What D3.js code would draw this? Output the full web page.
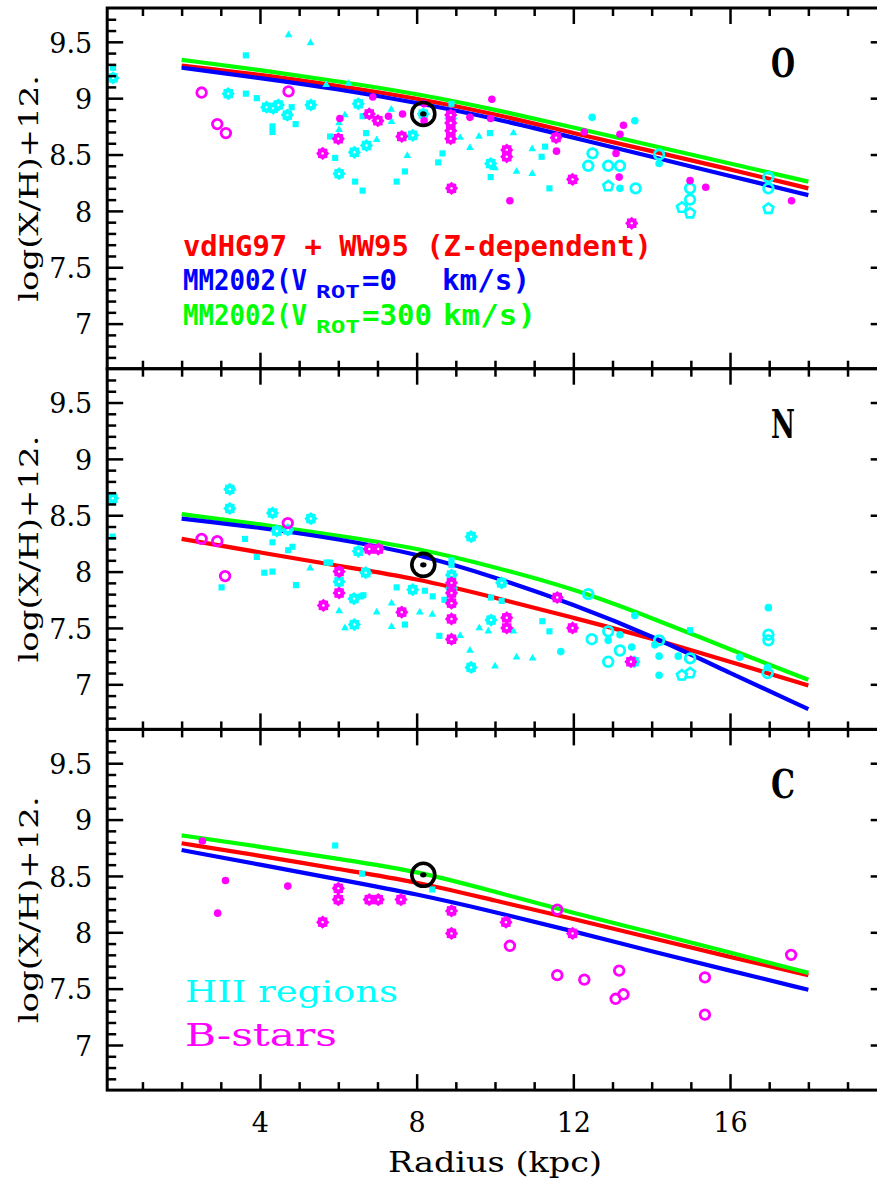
<!DOCTYPE html>
<html>
<head>
<meta charset="utf-8">
<script src="https://cdn.jsdelivr.net/npm/d3@7"></script>
<style>
  body { margin: 0; background: #fff; }
  svg { display: block; }
</style>
</head>
<body>
<div id="chart"></div>
<script>
// radius grid of the chemical evolution models (kpc)
const radiusGrid = [2, 4, 6, 8, 10, 12, 14, 16, 18];

// model gradients, log(X/H)+12
const oVdHG  = [9.29, 9.21, 9.11, 9.00, 8.86, 8.69, 8.53, 8.37, 8.20];
const oMM0   = [9.27, 9.18, 9.08, 8.96, 8.82, 8.65, 8.48, 8.31, 8.14];
const oMM300 = [9.34, 9.25, 9.15, 9.04, 8.90, 8.74, 8.58, 8.42, 8.26];
const nVdHG  = [8.29, 8.17, 8.05, 7.94, 7.77, 7.59, 7.41, 7.20, 6.99];
const nMM0   = [8.47, 8.39, 8.29, 8.16, 7.95, 7.71, 7.43, 7.10, 6.78];
const nMM300 = [8.51, 8.42, 8.32, 8.21, 8.04, 7.85, 7.59, 7.31, 7.04];
const cVdHG  = [8.79, 8.68, 8.56, 8.45, 8.28, 8.12, 7.95, 7.78, 7.62];
const cMM0   = [8.73, 8.60, 8.47, 8.34, 8.18, 8.01, 7.83, 7.66, 7.49];
const cMM300 = [8.86, 8.76, 8.65, 8.545, 8.36, 8.17, 8.00, 7.82, 7.64];

// observations: [radius, abundance, sample]
// samples: sq, tri, flw (flower), ring (open circle), pent (open pentagon), dot
const oHII = [
  [0.25,9.18,"flw"],[3.19,9.04,"flw"],[4.17,8.92,"flw"],[4.34,8.91,"flw"],[4.47,8.94,"flw"],
  [4.70,8.85,"flw"],[5.30,8.94,"flw"],[6.02,8.33,"flw"],[6.51,8.95,"flw"],[6.41,8.52,"flw"],
  [6.72,8.58,"flw"],[7.90,8.67,"flw"],[8.17,8.86,"flw"],[8.87,8.82,"flw"],[9.89,8.42,"flw"],
  [0.25,9.27,"sq"],[3.64,9.04,"sq"],[3.64,9.38,"sq"],[3.92,9.00,"sq"],[4.32,8.75,"sq"],
  [4.32,8.70,"sq"],[4.81,8.92,"sq"],[4.91,8.77,"sq"],[5.92,8.47,"sq"],[5.79,8.66,"sq"],
  [6.62,8.84,"sq"],[6.43,8.26,"sq"],[6.62,8.18,"sq"],[6.71,8.69,"sq"],[7.70,8.35,"sq"],
  [7.49,8.26,"sq"],[8.55,8.43,"sq"],[8.89,8.95,"sq"],[8.66,8.51,"sq"],[9.87,8.69,"sq"],
  [9.89,8.30,"sq"],[11.28,8.57,"sq"],[11.19,8.48,"sq"],[11.39,8.20,"sq"],
  [4.73,9.56,"tri"],[5.29,9.49,"tri"],[5.69,9.12,"tri"],[6.02,8.78,"tri"],[6.02,8.72,"tri"],
  [6.17,8.85,"tri"],[6.26,9.13,"tri"],[6.98,8.63,"tri"],[7.35,8.90,"tri"],[7.36,8.79,"tri"],
  [7.76,8.49,"tri"],[9.11,8.65,"tri"],[9.36,8.56,"tri"],[9.59,8.66,"tri"],[10.00,8.38,"tri"],
  [10.47,8.69,"tri"],[10.55,8.35,"tri"],[10.95,8.55,"tri"],[10.95,8.33,"tri"],
  [12.49,8.51,"ring"],[12.38,8.40,"ring"],[12.89,8.40,"ring"],[13.19,8.40,"ring"],[13.59,8.20,"ring"],
  [14.19,8.50,"ring"],[14.98,8.20,"ring"],[14.98,8.10,"ring"],[16.98,8.30,"ring"],[16.98,8.20,"ring"],
  [12.89,8.22,"pent"],[14.98,7.98,"pent"],[14.77,8.03,"pent"],[16.98,8.02,"pent"],
  [12.48,8.83,"dot"],[13.57,8.80,"dot"],[13.19,8.20,"dot"],[14.19,8.42,"dot"]
];
const oBstars = [
  [2.51,9.05,"ring"],[2.91,8.77,"ring"],[3.13,8.69,"ring"],[4.73,9.06,"ring"],
  [5.60,8.51,"flw"],[6.00,8.64,"flw"],[6.79,8.86,"flw"],[7.01,8.80,"flw"],[7.62,8.66,"flw"],
  [8.87,8.85,"flw"],[8.87,8.78,"flw"],[8.87,8.71,"flw"],[8.87,8.64,"flw"],[8.89,8.20,"flw"],
  [10.30,8.54,"flw"],[10.30,8.48,"flw"],[11.56,8.65,"flw"],[11.98,8.28,"flw"],[13.49,7.89,"flw"],
  [6.04,8.82,"dot"],[6.88,9.01,"dot"],[7.28,8.84,"dot"],[7.64,8.86,"dot"],[8.19,8.95,"dot"],
  [8.19,8.80,"dot"],[9.36,8.83,"dot"],[9.92,8.99,"dot"],[9.89,8.82,"dot"],[10.38,8.09,"dot"],
  [11.57,8.53,"dot"],[12.28,8.70,"dot"],[13.28,8.76,"dot"],[13.19,8.68,"dot"],[13.09,8.51,"dot"],
  [13.17,8.30,"dot"],[14.98,8.27,"dot"],[15.38,8.21,"dot"],[17.57,8.09,"dot"]
];
const nHII = [
  [0.24,8.65,"flw"],[3.23,8.73,"flw"],[3.23,8.56,"flw"],[4.32,8.52,"flw"],[4.43,8.36,"flw"],
  [4.71,8.37,"flw"],[5.30,8.47,"flw"],[6.51,8.18,"flw"],[6.02,7.91,"flw"],[6.70,7.99,"flw"],
  [6.40,7.76,"flw"],[7.90,7.84,"flw"],[6.41,7.53,"flw"],[8.89,7.97,"flw"],[8.89,7.85,"flw"],
  [10.17,7.90,"flw"],[9.39,8.31,"flw"],[9.90,7.57,"flw"],[9.39,7.15,"flw"],[13.55,7.20,"flw"],
  [0.24,8.31,"sq"],[3.02,7.86,"sq"],[3.62,8.29,"sq"],[3.92,8.13,"sq"],[4.32,8.26,"sq"],
  [4.11,7.99,"sq"],[4.32,8.00,"sq"],[4.72,8.19,"sq"],[4.83,8.22,"sq"],[4.92,7.88,"sq"],
  [5.79,8.08,"sq"],[5.70,8.08,"sq"],[6.64,7.79,"sq"],[6.58,7.78,"sq"],[7.49,7.86,"sq"],
  [8.21,7.83,"sq"],[7.70,7.53,"sq"],[8.58,7.43,"sq"],[8.41,7.78,"sq"],[8.89,8.10,"sq"],
  [8.89,8.06,"sq"],[8.71,7.75,"sq"],[9.90,7.77,"sq"],[10.17,7.74,"sq"],[11.21,7.56,"sq"],
  [11.39,7.47,"sq"],[14.98,7.48,"sq"],
  [5.28,8.03,"tri"],[6.02,7.65,"tri"],[6.98,7.64,"tri"],[7.36,7.72,"tri"],[8.08,7.64,"tri"],
  [6.17,7.50,"tri"],[7.36,7.51,"tri"],[8.40,7.62,"tri"],[9.11,7.43,"tri"],[9.60,7.50,"tri"],
  [9.83,7.47,"tri"],[10.47,7.47,"tri"],[9.36,7.30,"tri"],[10.00,7.16,"tri"],[10.55,7.24,"tri"],
  [10.96,7.23,"tri"],
  [12.38,7.80,"ring"],[16.98,7.44,"ring"],[16.98,7.39,"ring"],[16.96,7.10,"ring"],[12.47,7.40,"ring"],
  [12.89,7.47,"ring"],[13.19,7.30,"ring"],[12.89,7.20,"ring"],[14.19,7.39,"ring"],[14.98,7.23,"ring"],
  [14.77,7.08,"pent"],[14.98,7.10,"pent"],
  [11.68,7.29,"dot"],[13.57,7.61,"dot"],[16.98,7.68,"dot"],[16.25,7.24,"dot"],[16.96,7.15,"dot"],
  [13.19,7.44,"dot"],[12.89,7.39,"dot"],[13.49,7.33,"dot"],[14.08,7.35,"dot"],[14.19,7.25,"dot"],
  [14.19,7.08,"dot"],[14.68,7.25,"dot"]
];
const nBstars = [
  [2.51,8.29,"ring"],[2.91,8.27,"ring"],[3.11,7.96,"ring"],[4.71,8.43,"ring"],
  [6.79,8.20,"flw"],[7.02,8.20,"flw"],[6.02,8.00,"flw"],[6.02,7.81,"flw"],[5.62,7.70,"flw"],
  [7.62,7.64,"flw"],[8.89,7.90,"flw"],[8.89,7.81,"flw"],[8.89,7.72,"flw"],[8.89,7.58,"flw"],
  [8.89,7.40,"flw"],[10.30,7.59,"flw"],[10.30,7.50,"flw"],[11.59,7.77,"flw"],[11.98,7.50,"flw"],
  [13.47,7.20,"flw"]
];
const cHII = [
  [5.92,8.77,"sq"],[6.61,8.52,"sq"],[8.40,8.38,"sq"]
];
const cBstars = [
  [2.53,8.81,"dot"],[3.12,8.46,"dot"],[2.92,8.17,"dot"],[4.71,8.41,"dot"],
  [6.00,8.39,"flw"],[6.00,8.29,"flw"],[5.60,8.09,"flw"],[6.79,8.29,"flw"],[7.02,8.29,"flw"],
  [7.60,8.29,"flw"],[8.89,8.19,"flw"],[8.89,7.99,"flw"],[10.28,8.09,"flw"],[11.98,7.99,"flw"],
  [10.38,7.88,"ring"],[11.59,8.20,"ring"],[11.59,7.62,"ring"],[12.28,7.58,"ring"],[13.17,7.66,"ring"],
  [13.28,7.45,"ring"],[13.08,7.41,"ring"],[15.36,7.60,"ring"],[15.36,7.27,"ring"],[17.56,7.80,"ring"]
];

// solar values
const sunRadius = 8.17;
const sunValues = [8.86, 8.06, 8.51];

const elementNames = ["O", "N", "C"];
const yMajorTicks = [7, 7.5, 8, 8.5, 9, 9.5];
const xMajorTicks = [4, 8, 12, 16];

const width = 877, height = 1186;
const panelTop = 8, panelH = 360.7;

const svg = d3.select("#chart")
  .append("svg")
    .attr("width", width)
    .attr("height", height);

const x = d3.scaleLinear().domain([0.1, 20]).range([107.2, 886.7]);

const yMinor = d3.range(67, 98).map(d => d / 10).filter(d => !yMajorTicks.includes(d));
const xMinor = d3.range(1, 20).filter(d => !xMajorTicks.includes(d));

const serif = "DejaVu Serif";
const mono = "DejaVu Sans Mono";

// marker shapes
function starPath(rOut, rIn, n) {
  const pts = [];
  for (let i = 0; i < 2 * n; i++) {
    const a = Math.PI * i / n;
    const r = i % 2 ? rIn : rOut;
    pts.push([r * Math.sin(a), -r * Math.cos(a)]);
  }
  return "M" + pts.map(p => p[0].toFixed(2) + "," + p[1].toFixed(2)).join("L") + "Z";
}
function polyPath(r, n) {
  const pts = d3.range(n).map(i => {
    const a = 2 * Math.PI * i / n;
    return [r * Math.sin(a), -r * Math.cos(a)];
  });
  return "M" + pts.map(p => p[0].toFixed(2) + "," + p[1].toFixed(2)).join("L") + "Z";
}
const flowerD = starPath(6.6, 5.2, 8);
const pentD = polyPath(5.2, 5);
const squareD = d3.symbol(d3.symbolSquare, 38)();
const triD = d3.symbol(d3.symbolTriangle, 26)();

function addMarkers(g, y, pts, color) {
  const m = g.append("g").selectAll("g")
    .data(pts)
    .enter()
    .append("g")
      .attr("transform", d => "translate(" + x(d[0]) + "," + y(d[1]) + ")");

  m.each(function(d) {
    const s = d3.select(this);
    if (d[2] === "flw") {
      s.append("path").attr("d", flowerD).attr("fill", color);
      s.append("circle").attr("r", 1.2).attr("fill", "#fff");
    } else if (d[2] === "ring") {
      s.append("circle").attr("r", 4.8).attr("fill", "none")
        .attr("stroke", color).attr("stroke-width", 2.8);
    } else if (d[2] === "pent") {
      s.append("path").attr("d", pentD).attr("fill", "none")
        .attr("stroke", color).attr("stroke-width", 2.6);
    } else if (d[2] === "sq") {
      s.append("path").attr("d", squareD).attr("fill", color);
    } else if (d[2] === "tri") {
      s.append("path").attr("d", triD).attr("fill", color);
    } else {
      s.append("circle").attr("r", 3.8).attr("fill", color);
    }
  });
}

function styleAxis(g) {
  g.select(".domain").remove();
  g.selectAll(".tick line").attr("stroke", "#000").attr("stroke-width", 2.5);
  g.selectAll(".tick text")
    .attr("font-family", serif)
    .attr("font-size", 27)
    .attr("fill", "#000");
}

const panels = [
  { models: [oVdHG, oMM0, oMM300], hii: oHII, bstars: oBstars },
  { models: [nVdHG, nMM0, nMM300], hii: nHII, bstars: nBstars },
  { models: [cVdHG, cMM0, cMM300], hii: cHII, bstars: cBstars }
];
const modelColors = ["#ff0000", "#0000ff", "#00ff00"];

panels.forEach(function(p, i) {
  const top = panelTop + i * panelH;
  const bottom = top + panelH;
  const y = d3.scaleLinear().domain([6.6, 9.8]).range([bottom, top]);
  const g = svg.append("g");

  // model curves (red first, then green and blue over it)
  const line = d3.line()
    .x(d => x(d[0]))
    .y(d => y(d[1]))
    .curve(d3.curveBasis);
  [0, 2, 1].forEach(function(k) {
    g.append("path")
      .datum(radiusGrid.map((r, j) => [r, p.models[k][j]]))
      .attr("d", line)
      .attr("fill", "none")
      .attr("stroke", modelColors[k])
      .attr("stroke-width", 4.2);
  });

  // data points
  addMarkers(g, y, p.hii, "#00ffff");
  addMarkers(g, y, p.bstars, "#ff00ff");

  // the Sun
  const sun = g.append("g")
    .attr("transform", "translate(" + x(sunRadius) + "," + y(sunValues[i]) + ")");
  sun.append("circle").attr("r", 11.5).attr("fill", "none")
    .attr("stroke", "#000").attr("stroke-width", 3.6);
  sun.append("ellipse").attr("rx", 3.2).attr("ry", 2.6).attr("fill", "#000");

  // ticks: left (with labels), right, top, bottom
  const fmt = d => (d % 1 === 0 ? d3.format("d")(d) : d3.format(".1f")(d));
  g.append("g").attr("transform", "translate(" + x(0.1) + ",0)")
    .call(d3.axisLeft(y).tickValues(yMajorTicks).tickSize(-16).tickPadding(15).tickFormat(fmt))
    .call(styleAxis)
    .selectAll(".tick text").attr("dy", "0.38em");
  g.append("g").attr("transform", "translate(" + x(0.1) + ",0)")
    .call(d3.axisLeft(y).tickValues(yMinor).tickSize(-9).tickFormat(() => ""))
    .call(styleAxis);
  g.append("g").attr("transform", "translate(" + x(20) + ",0)")
    .call(d3.axisRight(y).tickValues(yMajorTicks).tickSize(-16).tickFormat(() => ""))
    .call(styleAxis);
  g.append("g").attr("transform", "translate(" + x(20) + ",0)")
    .call(d3.axisRight(y).tickValues(yMinor).tickSize(-9).tickFormat(() => ""))
    .call(styleAxis);
  g.append("g").attr("transform", "translate(0," + top + ")")
    .call(d3.axisTop(x).tickValues(xMajorTicks).tickSize(-16).tickFormat(() => ""))
    .call(styleAxis);
  g.append("g").attr("transform", "translate(0," + top + ")")
    .call(d3.axisTop(x).tickValues(xMinor).tickSize(-8).tickFormat(() => ""))
    .call(styleAxis);
  g.append("g").attr("transform", "translate(0," + bottom + ")")
    .call(d3.axisBottom(x).tickValues(xMajorTicks).tickSize(-16).tickPadding(23)
      .tickFormat(i === 2 ? d3.format("d") : () => ""))
    .call(styleAxis);
  g.append("g").attr("transform", "translate(0," + bottom + ")")
    .call(d3.axisBottom(x).tickValues(xMinor).tickSize(-8).tickFormat(() => ""))
    .call(styleAxis);

  // frame
  g.append("rect")
    .attr("x", x(0.1)).attr("y", top)
    .attr("width", x(20) - x(0.1)).attr("height", panelH)
    .attr("fill", "none").attr("stroke", "#000").attr("stroke-width", 3);

  // y title
  g.append("text")
    .attr("transform", "translate(38," + (top + panelH / 2) + ") rotate(-90)")
    .attr("text-anchor", "middle")
    .attr("font-family", serif)
    .attr("font-size", 26)
    .attr("textLength", 227)
    .attr("lengthAdjust", "spacingAndGlyphs")
    .text("log(X/H)+12.");

  // element label
  g.append("text")
    .attr("x", 771).attr("y", top + 69)
    .attr("font-family", serif)
    .attr("font-weight", "bold")
    .attr("font-size", 39)
    .attr("textLength", 24)
    .attr("lengthAdjust", "spacingAndGlyphs")
    .text(elementNames[i]);
});

// x title
svg.append("text")
  .attr("x", 495).attr("y", 1172)
  .attr("text-anchor", "middle")
  .attr("font-family", serif)
  .attr("font-size", 28)
  .attr("textLength", 214)
  .attr("lengthAdjust", "spacingAndGlyphs")
  .text("Radius (kpc)");

// model legend (top panel)
function legendText(tx, ty, str, color, size, len) {
  svg.append("text")
    .attr("x", tx).attr("y", ty)
    .attr("font-family", mono)
    .attr("font-weight", "bold")
    .attr("font-size", size)
    .attr("fill", color)
    .attr("textLength", len)
    .attr("lengthAdjust", "spacingAndGlyphs")
    .style("white-space", "pre")
    .text(str);
}
legendText(183, 256, "vdHG97 + WW95 (Z-dependent)", "#ff0000", 28, 469);
legendText(183, 290, "MM2002(V", "#0000ff", 28, 124);
legendText(316, 298, "ROT", "#0000ff", 17, 44);
legendText(362, 290, "=0", "#0000ff", 28, 35);
legendText(442, 290, "km/s)", "#0000ff", 28, 88);
legendText(183, 325, "MM2002(V", "#00ff00", 28, 124);
legendText(316, 333, "ROT", "#00ff00", 17, 44);
legendText(362, 325, "=300", "#00ff00", 28, 70);
legendText(443, 325, "km/s)", "#00ff00", 28, 93);

// sample legend (bottom panel)
svg.append("text")
  .attr("x", 185).attr("y", 1002)
  .attr("font-family", serif)
  .attr("font-size", 29)
  .attr("fill", "#00ffff")
  .attr("textLength", 213)
  .attr("lengthAdjust", "spacingAndGlyphs")
  .text("HII regions");
svg.append("text")
  .attr("x", 185).attr("y", 1046)
  .attr("font-family", serif)
  .attr("font-size", 31)
  .attr("fill", "#ff00ff")
  .attr("textLength", 152)
  .attr("lengthAdjust", "spacingAndGlyphs")
  .text("B-stars");
</script>
</body>
</html>
